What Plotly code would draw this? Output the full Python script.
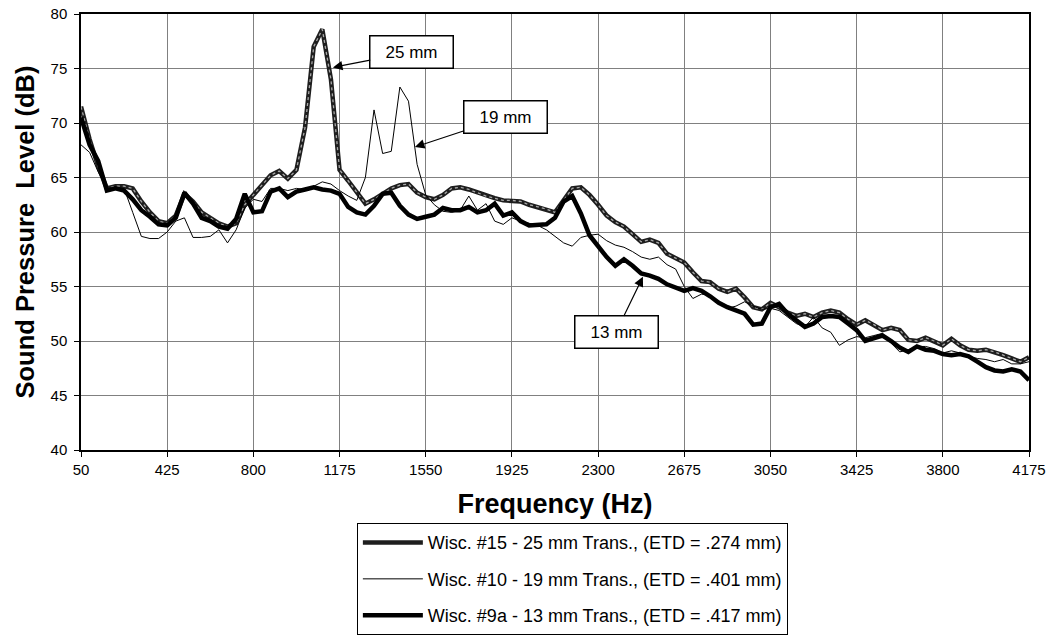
import plotly.graph_objects as go

# Frequency sample grid (Hz)
freq = [50 + 37.5 * i for i in range(111)]

spl_25mm = [71.5, 68.5, 66.0, 64.0, 64.2, 64.2, 64.0, 62.8, 61.8, 61.0,
            60.8, 61.5, 63.5, 62.8, 61.8, 61.3, 60.8, 60.5, 60.8, 62.5,
            63.4, 64.3, 65.2, 65.6, 64.9, 65.7, 69.6, 77.0, 78.6, 74.0,
            65.7, 64.7, 63.6, 62.6, 63.0, 63.5, 64.0, 64.3, 64.4, 63.6,
            63.2, 63.0, 63.4, 64.0, 64.1, 63.9, 63.6, 63.3, 63.1, 62.9,
            62.9, 62.8, 62.5, 62.3, 62.1, 61.8, 62.9, 64.0, 64.1, 63.4,
            62.5, 61.5, 60.9, 60.5, 59.8, 59.1, 59.3, 59.0, 58.0, 57.6,
            57.2, 56.3, 55.5, 55.4, 54.8, 54.5, 54.8, 54.0, 53.1, 52.9,
            53.5, 53.1, 52.6, 52.3, 52.5, 52.2, 52.6, 52.8, 52.6, 52.0,
            51.5, 51.9, 51.5, 51.0, 51.2, 51.0, 50.1, 50.0, 50.3, 50.0,
            49.6, 50.2, 49.6, 49.2, 49.1, 49.2, 49.0, 48.7, 48.4, 48.1,
            48.5]

spl_19mm = [68.0, 67.3, 65.5, 64.0, 64.0, 64.0, 61.8, 59.6, 59.4, 59.4,
            60.0, 61.0, 61.3, 59.5, 59.5, 59.6, 60.2, 59.0, 60.2, 62.2,
            63.0, 62.8, 64.0, 64.0, 63.8, 64.0, 63.9, 64.2, 64.6, 64.4,
            63.8, 63.3, 62.9, 65.0, 71.2, 67.2, 67.4, 73.3, 72.0, 66.2,
            63.4, 62.5, 61.9, 61.8, 62.0, 63.3, 62.0, 62.6, 61.0, 60.7,
            61.3, 61.0, 60.8, 60.6, 60.2, 59.6, 59.0, 58.7, 59.5, 59.7,
            59.8, 59.2, 58.8, 58.6, 58.2, 57.7, 57.5, 57.7, 57.0, 56.6,
            55.0, 53.9, 54.3, 54.2, 53.4, 53.0, 53.2, 53.6, 53.2, 52.9,
            53.0, 52.8, 52.2, 51.6, 51.3, 52.2, 51.2, 50.8, 49.6, 50.1,
            50.4, 50.3, 50.5, 50.7, 49.8, 49.0, 49.2, 49.5, 49.5, 49.3,
            48.9, 49.1, 48.9, 48.6, 48.4, 48.3, 48.1, 48.3, 47.9, 47.9,
            48.1]

spl_13mm = [70.5, 68.0, 66.5, 63.8, 64.0, 63.8, 63.0, 62.0, 61.4, 60.7,
            60.6, 61.3, 63.6, 62.6, 61.3, 61.0, 60.5, 60.3, 61.2, 63.5,
            61.8, 61.9, 63.7, 64.0, 63.2, 63.7, 63.9, 64.1, 63.9, 63.8,
            63.5, 62.3, 61.8, 61.6, 62.4, 63.5, 63.6, 62.4, 61.6, 61.2,
            61.4, 61.6, 62.2, 62.0, 62.0, 62.3, 61.8, 62.0, 62.6, 61.5,
            61.8, 61.0, 60.6, 60.6, 60.7, 61.3, 62.8, 63.3, 61.7, 59.7,
            58.7, 57.7, 56.9, 57.5, 56.9, 56.2, 56.0, 55.7, 55.2, 54.85,
            54.6, 54.85, 54.6, 54.1, 53.5, 53.1, 52.8, 52.5, 51.5, 51.6,
            53.1, 53.4, 52.5, 51.9, 51.3, 51.6, 52.2, 52.3, 52.2, 51.6,
            51.0, 50.0, 50.2, 50.5, 50.0, 49.4, 49.0, 49.5, 49.2, 49.1,
            48.8, 48.7, 48.8, 48.6, 48.1, 47.6, 47.3, 47.2, 47.4, 47.2,
            46.4]

x_ticks = [50, 425, 800, 1175, 1550, 1925, 2300, 2675, 3050, 3425, 3800, 4175]
y_ticks = [40, 45, 50, 55, 60, 65, 70, 75, 80]

names = ["Wisc. #15 - 25 mm Trans., (ETD = .274 mm)",
         "Wisc. #10 - 19 mm Trans., (ETD = .401 mm)",
         "Wisc. #9a - 13 mm Trans., (ETD = .417 mm)"]

# callouts: label, tip (x, y), text centre (x, y)
callouts = [("25 mm", 1146, 75.1, 1490, 76.5),
            ("19 mm", 1503, 67.8, 1899, 70.55),
            ("13 mm", 2495, 55.9, 2378, 50.8)]

FONT = "Liberation Sans, Arial, sans-serif"

fig = go.Figure()
fig.add_trace(go.Scatter(x=freq, y=spl_25mm, mode="lines", name=names[0],
                         line=dict(color="#1e1e1e", width=4.5),
                         legendgroup="a", legendrank=1))
fig.add_trace(go.Scatter(x=freq, y=spl_25mm, mode="lines", showlegend=False,
                         line=dict(color="#a8a8a8", width=1.3, dash="dot"),
                         legendgroup="a", hoverinfo="skip"))
fig.add_trace(go.Scatter(x=freq, y=spl_13mm, mode="lines", name=names[2],
                         line=dict(color="black", width=4.5),
                         legendgroup="c", legendrank=3))
fig.add_trace(go.Scatter(x=freq, y=spl_19mm, mode="lines", name=names[1],
                         line=dict(color="black", width=1),
                         legendgroup="b", legendrank=2))

for label, tx, ty, cx, cy in callouts:
    fig.add_annotation(x=tx, y=ty, ax=cx, ay=cy, xref="x", yref="y",
                       axref="x", ayref="y", text=label, showarrow=True,
                       arrowhead=2, arrowsize=1.6, arrowwidth=1.2,
                       arrowcolor="black", font=dict(family=FONT, size=17, color="black"),
                       bgcolor="white", bordercolor="black", borderwidth=1.5,
                       width=80, height=29, borderpad=1)

fig.update_layout(
    width=1054, height=635,
    margin=dict(l=81, r=25, t=14, b=185, autoexpand=False),
    paper_bgcolor="white", plot_bgcolor="white",
    font=dict(family=FONT, color="black", size=15),
    showlegend=True,
    legend=dict(x=0.291, y=-0.168, xanchor="left", yanchor="top",
                bordercolor="black", borderwidth=1, bgcolor="white",
                font=dict(family=FONT, size=18, color="black"),
                traceorder="grouped", tracegroupgap=10, itemwidth=60),
)
fig.update_xaxes(range=[50, 4175], tickvals=x_ticks, ticktext=[str(v) for v in x_ticks],
                 showgrid=True, gridcolor="#808080", gridwidth=1,
                 showline=True, linecolor="black", linewidth=1.5, mirror=True,
                 ticks="outside", ticklen=5, tickcolor="black",
                 tickfont=dict(family=FONT, size=15), automargin=False,
                 ticklabeloverflow="allow",
                 title=dict(text="<b>Frequency (Hz)</b>", font=dict(family=FONT, size=27), standoff=17),
                 zeroline=False)
fig.update_yaxes(range=[40, 80], tickvals=y_ticks, ticktext=[str(v) for v in y_ticks],
                 showgrid=True, gridcolor="#808080", gridwidth=1,
                 showline=True, linecolor="black", linewidth=1.5, mirror=True,
                 ticks="outside", ticklen=5, tickcolor="black",
                 tickfont=dict(family=FONT, size=15), automargin=False,
                 ticklabelstandoff=4, ticklabeloverflow="allow",
                 title=dict(text="<b>Sound Pressure  Level (dB)</b>", font=dict(family=FONT, size=25.5), standoff=9),
                 zeroline=False)

# remove the browser's default 8px body margin so the figure sits at the page origin
fig.write_html("out.html", config={"displayModeBar": False},
               post_script="document.body.style.margin='0px';")
